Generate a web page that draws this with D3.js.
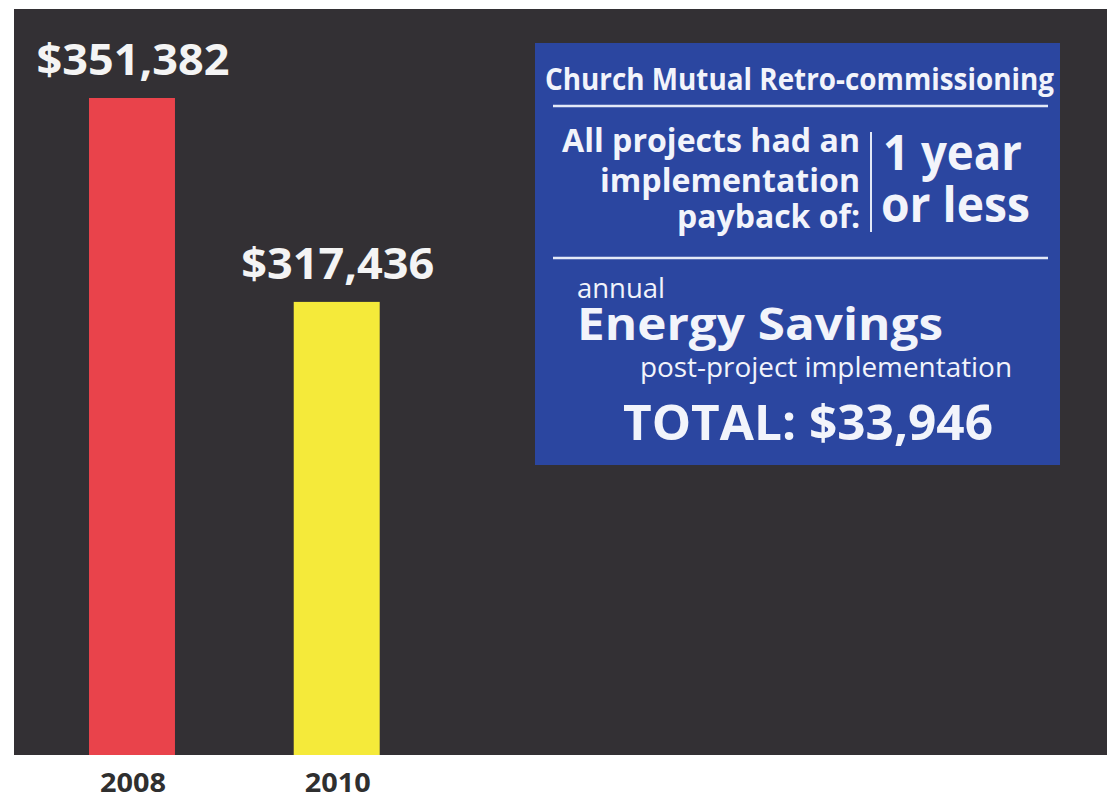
<!DOCTYPE html>
<html>
<head>
<meta charset="utf-8">
<script src="https://cdn.jsdelivr.net/npm/d3@7"></script>
<style>
  html, body { margin: 0; padding: 0; background: #ffffff; }
  svg { display: block; }
  text { font-family: "Open Sans", "DejaVu Sans", sans-serif; }
</style>
</head>
<body>
<svg id="chart" width="1116" height="797"></svg>
<script>
// ---- data ----
const categories = ["2008", "2010"];
const values = [351382, 317436];
const valueLabels = ["$351,382", "$317,436"];
const barColors = ["#e9434b", "#f5ea3a"];
const axisBase = 242000;          // value at the bottom of the panel (bars are not zero-based)
const totalSavings = "$33,946";

const svg = d3.select("#chart");

// panel
const panel = { x0: 14, y0: 9, x1: 1107, y1: 755 };
svg.append("rect")
  .attr("x", panel.x0).attr("y", panel.y0)
  .attr("width", panel.x1 - panel.x0).attr("height", panel.y1 - panel.y0)
  .attr("fill", "#333034");

// scales
const x = d3.scaleBand().domain(categories).range([89, 379.7]).paddingInner(0.58).paddingOuter(0);
const y = d3.scaleLinear().domain([axisBase, d3.max(values)]).range([panel.y1, 98]);

const data = categories.map((c, i) => ({ c, v: values[i], label: valueLabels[i], color: barColors[i] }));

// bars
svg.selectAll("rect.bar").data(data).enter().append("rect")
  .attr("class", "bar")
  .attr("x", d => x(d.c))
  .attr("width", x.bandwidth())
  .attr("y", d => y(d.v))
  .attr("height", d => y(axisBase) - y(d.v))
  .attr("fill", d => d.color);

// value labels
svg.selectAll("text.val").data(data).enter().append("text")
  .attr("class", "val")
  .attr("x", d => x(d.c) + x.bandwidth() / 2 + 1)
  .attr("y", d => y(d.v) - 23)
  .attr("text-anchor", "middle")
  .attr("font-size", 43)
  .attr("font-weight", 700)
  .attr("fill", "#f4f4f4")
  .attr("textLength", 193)
  .attr("lengthAdjust", "spacingAndGlyphs")
  .text(d => d.label);

// category axis (no line, just labels)
const xAxis = d3.axisBottom(x).tickSize(0).tickPadding(0);
const gx = svg.append("g").attr("transform", `translate(1,${panel.y1})`).call(xAxis);
gx.select(".domain").remove();
gx.selectAll("text")
  .attr("dy", null)
  .attr("y", 37)
  .attr("font-size", 26)
  .attr("font-weight", 700)
  .attr("fill", "#2f2f2f")
  .attr("textLength", 66)
  .attr("lengthAdjust", "spacingAndGlyphs")
  .style("font-family", "'Open Sans', sans-serif");

// info box
const box = svg.append("g");
box.append("rect")
  .attr("x", 535).attr("y", 43).attr("width", 525).attr("height", 422)
  .attr("fill", "#2b46a0");

const white = "#f2f4fb";
function t(str, xx, yy, size, weight, anchor, len) {
  const el = box.append("text")
    .attr("x", xx).attr("y", yy)
    .attr("font-size", size)
    .attr("font-weight", weight)
    .attr("fill", white)
    .attr("text-anchor", anchor)
    .text(str);
  if (len) el.attr("textLength", len).attr("lengthAdjust", "spacingAndGlyphs");
  return el;
}

t("Church Mutual Retro-commissioning", 545, 90, 30, 700, "start", 509);
box.append("line").attr("x1", 553).attr("x2", 1048).attr("y1", 106).attr("y2", 106)
  .attr("stroke", "#e3e9f7").attr("stroke-width", 2.5);

t("All projects had an", 860, 152, 33, 700, "end", 298);
t("implementation", 860, 192, 33, 700, "end", 260);
t("payback of:", 860, 228, 33, 700, "end", 183);
box.append("line").attr("x1", 871).attr("x2", 871).attr("y1", 132).attr("y2", 232)
  .attr("stroke", "#e3e9f7").attr("stroke-width", 2);
t("1 year", 883, 170, 49, 700, "start", 139);
t("or less", 881, 222, 49, 700, "start", 149);

box.append("line").attr("x1", 553).attr("x2", 1048).attr("y1", 258).attr("y2", 258)
  .attr("stroke", "#e3e9f7").attr("stroke-width", 2.5);

t("annual", 577, 298, 28, 400, "start", 88);
t("Energy Savings", 577, 340, 45, 700, "start", 366);
t("post-project implementation", 640, 377, 27, 400, "start", 372);
t("TOTAL: " + totalSavings, 623, 440, 49, 700, "start", 370);
</script>
</body>
</html>
